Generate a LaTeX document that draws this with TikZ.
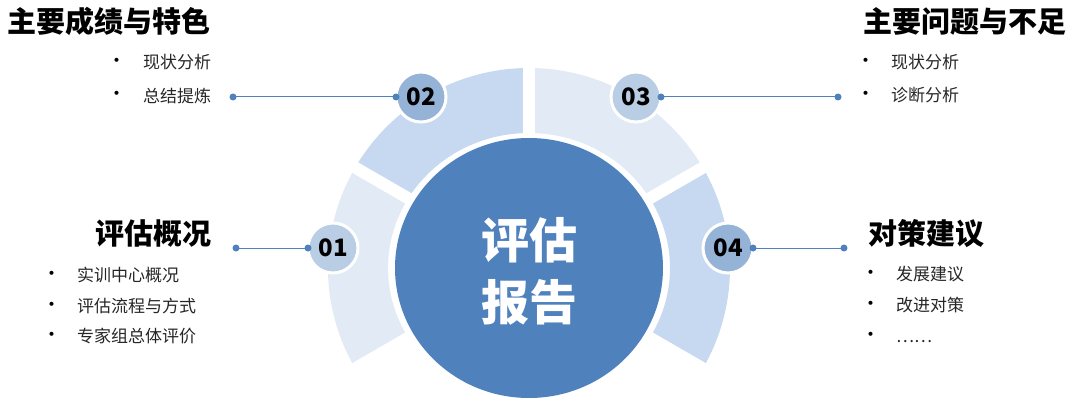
\documentclass[tikz,border=0pt]{standalone}
\usepackage{fontspec}
\setmainfont{Noto Sans CJK SC}
\definecolor{mainblue}{HTML}{4F81BD}
\definecolor{segdark}{HTML}{C6D9F0}
\definecolor{seglight}{HTML}{E2EAF5}
\definecolor{badgedark}{HTML}{95B3D7}
\definecolor{badgelight}{HTML}{B9CDE5}
\tikzset{
  badge/.style={circle, minimum size=50pt, inner sep=0pt, outer sep=0pt, draw=white, line width=3pt, font=\bfseries\fontsize{24}{24}\selectfont, text=black},
  titletext/.style={inner sep=0pt, font=\bfseries\fontsize{29}{29}\selectfont, text=black},
  itemtext/.style={inner sep=0pt, font=\fontsize{17}{17}\selectfont, text=black!85},
  bullettext/.style={inner sep=0pt, anchor=base, font=\fontsize{19}{19}\selectfont, text=black},
  centertext/.style={inner sep=0pt, font=\bfseries\fontsize{48}{48}\selectfont, text=white},
  connector/.style={draw=mainblue, line width=1pt},
  enddot/.style={fill=mainblue},
  gapline/.style={draw=white, line width=12pt}
}
\begin{document}
\begin{tikzpicture}[x=1pt,y=1pt]
\useasboundingbox (0,-412) rectangle (1080,0);
\coordinate (c) at (529,-268);
% ring segments
\fill[seglight, shift={(c)}] (150:201 and 200) arc[start angle=150, end angle=210, x radius=201, y radius=200] -- (210:141 and 135) arc[start angle=210, end angle=150, x radius=141, y radius=135] -- cycle;
\fill[segdark, shift={(c)}] (90:201 and 200) arc[start angle=90, end angle=150, x radius=201, y radius=200] -- (150:141 and 135) arc[start angle=150, end angle=90, x radius=141, y radius=135] -- cycle;
\fill[seglight, shift={(c)}] (30:201 and 200) arc[start angle=30, end angle=90, x radius=201, y radius=200] -- (90:141 and 135) arc[start angle=90, end angle=30, x radius=141, y radius=135] -- cycle;
\fill[segdark, shift={(c)}] (-30:201 and 200) arc[start angle=-30, end angle=30, x radius=201, y radius=200] -- (30:141 and 135) arc[start angle=30, end angle=-30, x radius=141, y radius=135] -- cycle;
% gaps
\foreach \a in {-30,30,90,150,210}{
  \draw[gapline] (c) -- ++(\a:215);
}
% centre circle
\fill[mainblue] (c) ellipse[x radius=134, y radius=130];
\node[centertext, anchor=base] (ct1) at (529.5,-258) {评估};
\node[centertext, anchor=base] (ct2) at (529.5,-320) {报告};
% badges
\node[badge, fill=badgelight] (b1) at (333,-248) {01};
\node[badge, fill=badgedark] (b2) at (421,-97) {02};
\node[badge, fill=badgelight] (b3) at (636,-97) {03};
\node[badge, fill=badgedark] (b4) at (728,-248) {04};
% connector free ends
\coordinate (d1) at (236,-248);
\coordinate (d2) at (233,-97);
\coordinate (d3) at (838,-97);
\coordinate (d4) at (844,-248);
\draw[connector] (d1) -- (b1.west);
\draw[connector] (d2) -- (b2.west);
\draw[connector] (b3.east) -- (d3);
\draw[connector] (b4.east) -- (d4);
\foreach \p in {d1,b1.west,d2,b2.west,d3,b3.east,d4,b4.east}{
  \fill[enddot] (\p) circle (3.5);
}
% titles
\node[titletext, anchor=base west] (t2) at (7,-33) {主要成绩与特色};
\node[titletext, anchor=base west] (t3) at (863,-33) {主要问题与不足};
\node[titletext, anchor=base east] (t1) at (212,-244) {评估概况};
\node[titletext, anchor=base west] (t4) at (868,-244) {对策建议};
% items group 02
\node[bullettext] (p21) at (117,-67) {•};
\node[itemtext, anchor=base west] (i21) at (143,-68.5) {现状分析};
\node[bullettext] (p22) at (117,-101) {•};
\node[itemtext, anchor=base west] (i22) at (143,-102.5) {总结提炼};
% items group 03
\node[bullettext] (p31) at (866,-67) {•};
\node[itemtext, anchor=base west] (i31) at (891,-68.5) {现状分析};
\node[bullettext] (p32) at (866,-100) {•};
\node[itemtext, anchor=base west] (i32) at (891,-101.5) {诊断分析};
% items group 01
\node[bullettext] (p11) at (52,-280) {•};
\node[itemtext, anchor=base west] (i11) at (77,-281.5) {实训中心概况};
\node[bullettext] (p12) at (52,-311) {•};
\node[itemtext, anchor=base west] (i12) at (77,-312.5) {评估流程与方式};
\node[bullettext] (p13) at (52,-341) {•};
\node[itemtext, anchor=base west] (i13) at (77,-342.5) {专家组总体评价};
% items group 04
\node[bullettext] (p41) at (871,-279) {•};
\node[itemtext, anchor=base west] (i41) at (896,-280.5) {发展建议};
\node[bullettext] (p42) at (871,-310) {•};
\node[itemtext, anchor=base west] (i42) at (896,-311.5) {改进对策};
\node[bullettext] (p43) at (871,-341) {•};
\node[itemtext, anchor=base west] (i43) at (896,-342.5) {……};
\end{tikzpicture}
\end{document}
